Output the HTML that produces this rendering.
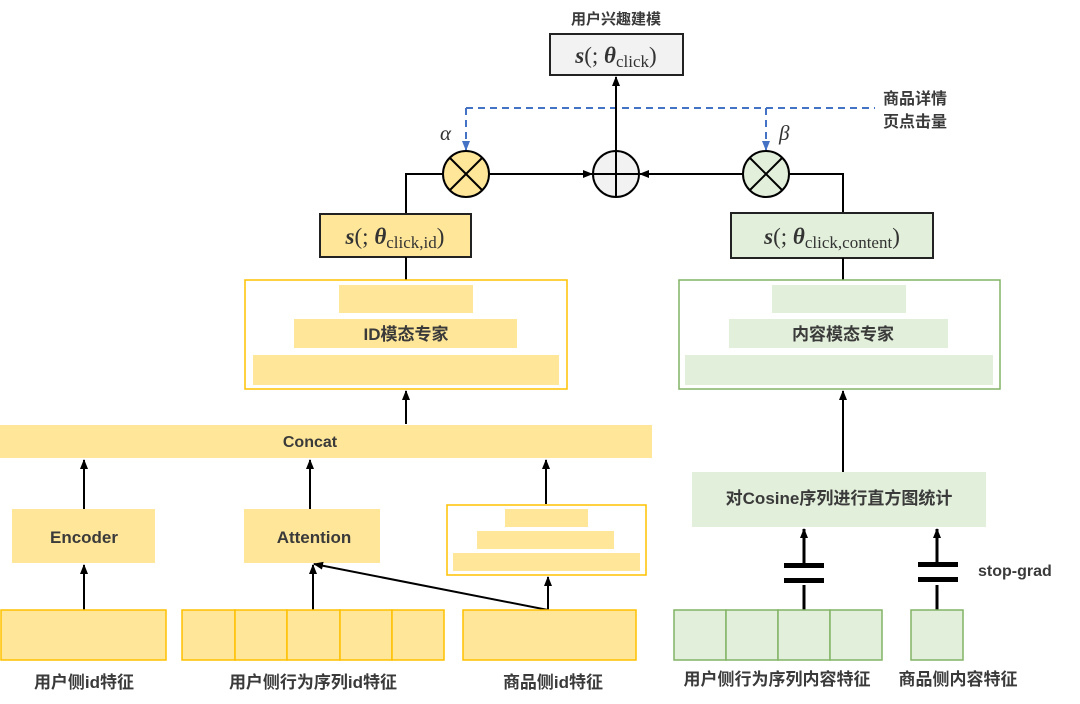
<!DOCTYPE html>
<html><head><meta charset="utf-8"><style>
html,body{margin:0;padding:0;background:#fff;}
svg{display:block;}
.t{font-family:"Liberation Sans","Noto Sans CJK SC",sans-serif;font-weight:bold;fill:#3a3a3a;}
.m{font-family:"Liberation Serif","DejaVu Serif",serif;fill:#333;}
</style></head><body>
<svg width="1080" height="704" viewBox="0 0 1080 704" xmlns="http://www.w3.org/2000/svg">
<defs>
<marker id="a" markerWidth="10" markerHeight="10" refX="9" refY="5" orient="auto" markerUnits="userSpaceOnUse"><path d="M0,1 L10,5 L0,9 z" fill="#000"/></marker>
<marker id="b" markerWidth="10" markerHeight="10" refX="9" refY="5" orient="auto" markerUnits="userSpaceOnUse"><path d="M0,1 L10,5 L0,9 z" fill="#4472c4"/></marker>
</defs>

<text x="616" y="24" class="t" font-size="15" text-anchor="middle">用户兴趣建模</text>
<rect x="550" y="34" width="133" height="41" fill="#f2f2f2" stroke="#222" stroke-width="2"/>
<text x="616" y="63" class="m" font-size="23" text-anchor="middle"><tspan font-weight="bold" font-style="italic">s</tspan>(; <tspan font-weight="bold" font-style="italic">θ</tspan><tspan font-size="17" dy="4">click</tspan><tspan dy="-4">)</tspan></text>

<path d="M466,108 H875" stroke="#4472c4" stroke-width="2" stroke-dasharray="7,5" fill="none"/>
<line x1="466" y1="108" x2="466" y2="150" stroke="#4472c4" stroke-width="2" stroke-dasharray="7,5" marker-end="url(#b)"/>
<line x1="766" y1="108" x2="766" y2="150" stroke="#4472c4" stroke-width="2" stroke-dasharray="7,5" marker-end="url(#b)"/>
<text x="883" y="104" class="t" font-size="16">商品详情</text>
<text x="883" y="127" class="t" font-size="16">页点击量</text>
<text x="440" y="140" class="m" font-size="21" font-style="italic" fill="#000">α</text>
<text x="779" y="140" class="m" font-size="21" font-style="italic" fill="#000">β</text>

<line x1="616" y1="151" x2="616" y2="77" stroke="#000" stroke-width="2" marker-end="url(#a)"/>
<line x1="489" y1="174" x2="592" y2="174" stroke="#000" stroke-width="2" marker-end="url(#a)"/>
<line x1="743" y1="174" x2="640" y2="174" stroke="#000" stroke-width="2" marker-end="url(#a)"/>
<path d="M443,174 H406 V214" stroke="#000" stroke-width="2" fill="none"/>
<path d="M789,174 H843 V213" stroke="#000" stroke-width="2" fill="none"/>

<circle cx="466" cy="174" r="23" fill="#ffe699" stroke="#000" stroke-width="2"/>
<path d="M450,158 L482,190 M482,158 L450,190" stroke="#000" stroke-width="2"/>
<circle cx="616" cy="174" r="23" fill="#f2f2f2" stroke="#000" stroke-width="2"/>
<path d="M593,174 H639 M616,151 V197" stroke="#000" stroke-width="2"/>
<circle cx="766" cy="174" r="23" fill="#e2efda" stroke="#000" stroke-width="2"/>
<path d="M750,158 L782,190 M782,158 L750,190" stroke="#000" stroke-width="2"/>

<rect x="320" y="214" width="151" height="43" fill="#ffe699" stroke="#222" stroke-width="2"/>
<text x="395" y="244" class="m" font-size="23" text-anchor="middle"><tspan font-weight="bold" font-style="italic">s</tspan>(; <tspan font-weight="bold" font-style="italic">θ</tspan><tspan font-size="17" dy="4">click,id</tspan><tspan dy="-4">)</tspan></text>
<rect x="731" y="213" width="202" height="45" fill="#e2efda" stroke="#222" stroke-width="2"/>
<text x="832" y="244" class="m" font-size="23" text-anchor="middle"><tspan font-weight="bold" font-style="italic">s</tspan>(; <tspan font-weight="bold" font-style="italic">θ</tspan><tspan font-size="17" dy="4">click,content</tspan><tspan dy="-4">)</tspan></text>
<line x1="406" y1="257" x2="406" y2="280" stroke="#000" stroke-width="2"/>
<line x1="843" y1="258" x2="843" y2="280" stroke="#000" stroke-width="2"/>

<rect x="245" y="280" width="322" height="109" fill="#fff" stroke="#ffc000" stroke-width="1.5"/>
<rect x="339" y="285" width="134" height="28" fill="#ffe699"/>
<rect x="294" y="319" width="223" height="29" fill="#ffe699"/>
<rect x="253" y="355" width="306" height="30" fill="#ffe699"/>
<text x="406" y="340" class="t" font-size="17" text-anchor="middle">ID模态专家</text>
<rect x="679" y="280" width="321" height="109" fill="#fff" stroke="#82b366" stroke-width="1.5"/>
<rect x="772" y="285" width="134" height="28" fill="#e2efda"/>
<rect x="729" y="319" width="219" height="29" fill="#e2efda"/>
<rect x="685" y="355" width="308" height="30" fill="#e2efda"/>
<text x="843" y="340" class="t" font-size="17" text-anchor="middle">内容模态专家</text>

<line x1="406" y1="424" x2="406" y2="391" stroke="#000" stroke-width="2" marker-end="url(#a)"/>
<line x1="843" y1="472" x2="843" y2="391" stroke="#000" stroke-width="2" marker-end="url(#a)"/>

<rect x="0" y="425" width="652" height="33" fill="#ffe699"/>
<text x="310" y="447" class="t" font-size="16" text-anchor="middle">Concat</text>
<line x1="84" y1="509" x2="84" y2="460" stroke="#000" stroke-width="2" marker-end="url(#a)"/>
<line x1="310" y1="509" x2="310" y2="460" stroke="#000" stroke-width="2" marker-end="url(#a)"/>
<line x1="546" y1="504" x2="546" y2="460" stroke="#000" stroke-width="2" marker-end="url(#a)"/>

<rect x="12" y="509" width="143" height="54" fill="#ffe699"/>
<text x="84" y="543" class="t" font-size="17" text-anchor="middle">Encoder</text>
<rect x="244" y="509" width="136" height="54" fill="#ffe699"/>
<text x="314" y="543" class="t" font-size="17" text-anchor="middle">Attention</text>
<rect x="447" y="505" width="199" height="70" fill="#fff" stroke="#ffc000" stroke-width="1.5"/>
<rect x="505" y="509" width="83" height="18" fill="#ffe699"/>
<rect x="477" y="531" width="137" height="18" fill="#ffe699"/>
<rect x="453" y="553" width="187" height="18" fill="#ffe699"/>

<line x1="84" y1="610" x2="84" y2="565" stroke="#000" stroke-width="2" marker-end="url(#a)"/>
<line x1="313" y1="610" x2="313" y2="565" stroke="#000" stroke-width="2" marker-end="url(#a)"/>
<line x1="548" y1="610" x2="548" y2="577" stroke="#000" stroke-width="2" marker-end="url(#a)"/>
<line x1="548" y1="610" x2="314" y2="564" stroke="#000" stroke-width="2" marker-end="url(#a)"/>

<g fill="#ffe699" stroke="#ffc000" stroke-width="1.5">
<rect x="1" y="610" width="165" height="50"/>
<rect x="182" y="610" width="53" height="50"/>
<rect x="235" y="610" width="52" height="50"/>
<rect x="287" y="610" width="53" height="50"/>
<rect x="340" y="610" width="52" height="50"/>
<rect x="392" y="610" width="52" height="50"/>
<rect x="463" y="610" width="173" height="50"/>
</g>
<text x="84" y="688" class="t" font-size="17" text-anchor="middle">用户侧id特征</text>
<text x="313" y="688" class="t" font-size="17" text-anchor="middle">用户侧行为序列id特征</text>
<text x="553" y="688" class="t" font-size="17" text-anchor="middle">商品侧id特征</text>

<rect x="692" y="472" width="294" height="55" fill="#e2efda"/>
<text x="839" y="504" class="t" font-size="17" text-anchor="middle">对Cosine序列进行直方图统计</text>
<line x1="804" y1="610" x2="804" y2="529" stroke="#000" stroke-width="3" marker-end="url(#a)"/>
<line x1="937" y1="610" x2="937" y2="529" stroke="#000" stroke-width="3" marker-end="url(#a)"/>
<rect x="780" y="563" width="40" height="22" fill="#fff"/>
<rect x="915" y="563" width="44" height="22" fill="#fff"/>
<rect x="784" y="563" width="40" height="5" fill="#000"/>
<rect x="784" y="578" width="40" height="5" fill="#000"/>
<rect x="918" y="562" width="40" height="5" fill="#000"/>
<rect x="918" y="577" width="40" height="5" fill="#000"/>
<text x="978" y="576" class="t" font-size="16">stop-grad</text>
<g fill="#e2efda" stroke="#82b366" stroke-width="1.5">
<rect x="674" y="610" width="52" height="50"/>
<rect x="726" y="610" width="52" height="50"/>
<rect x="778" y="610" width="52" height="50"/>
<rect x="830" y="610" width="52" height="50"/>
<rect x="911" y="610" width="52" height="50"/>
</g>
<text x="777" y="685" class="t" font-size="17" text-anchor="middle">用户侧行为序列内容特征</text>
<text x="958" y="685" class="t" font-size="17" text-anchor="middle">商品侧内容特征</text>
</svg>
</body></html>
